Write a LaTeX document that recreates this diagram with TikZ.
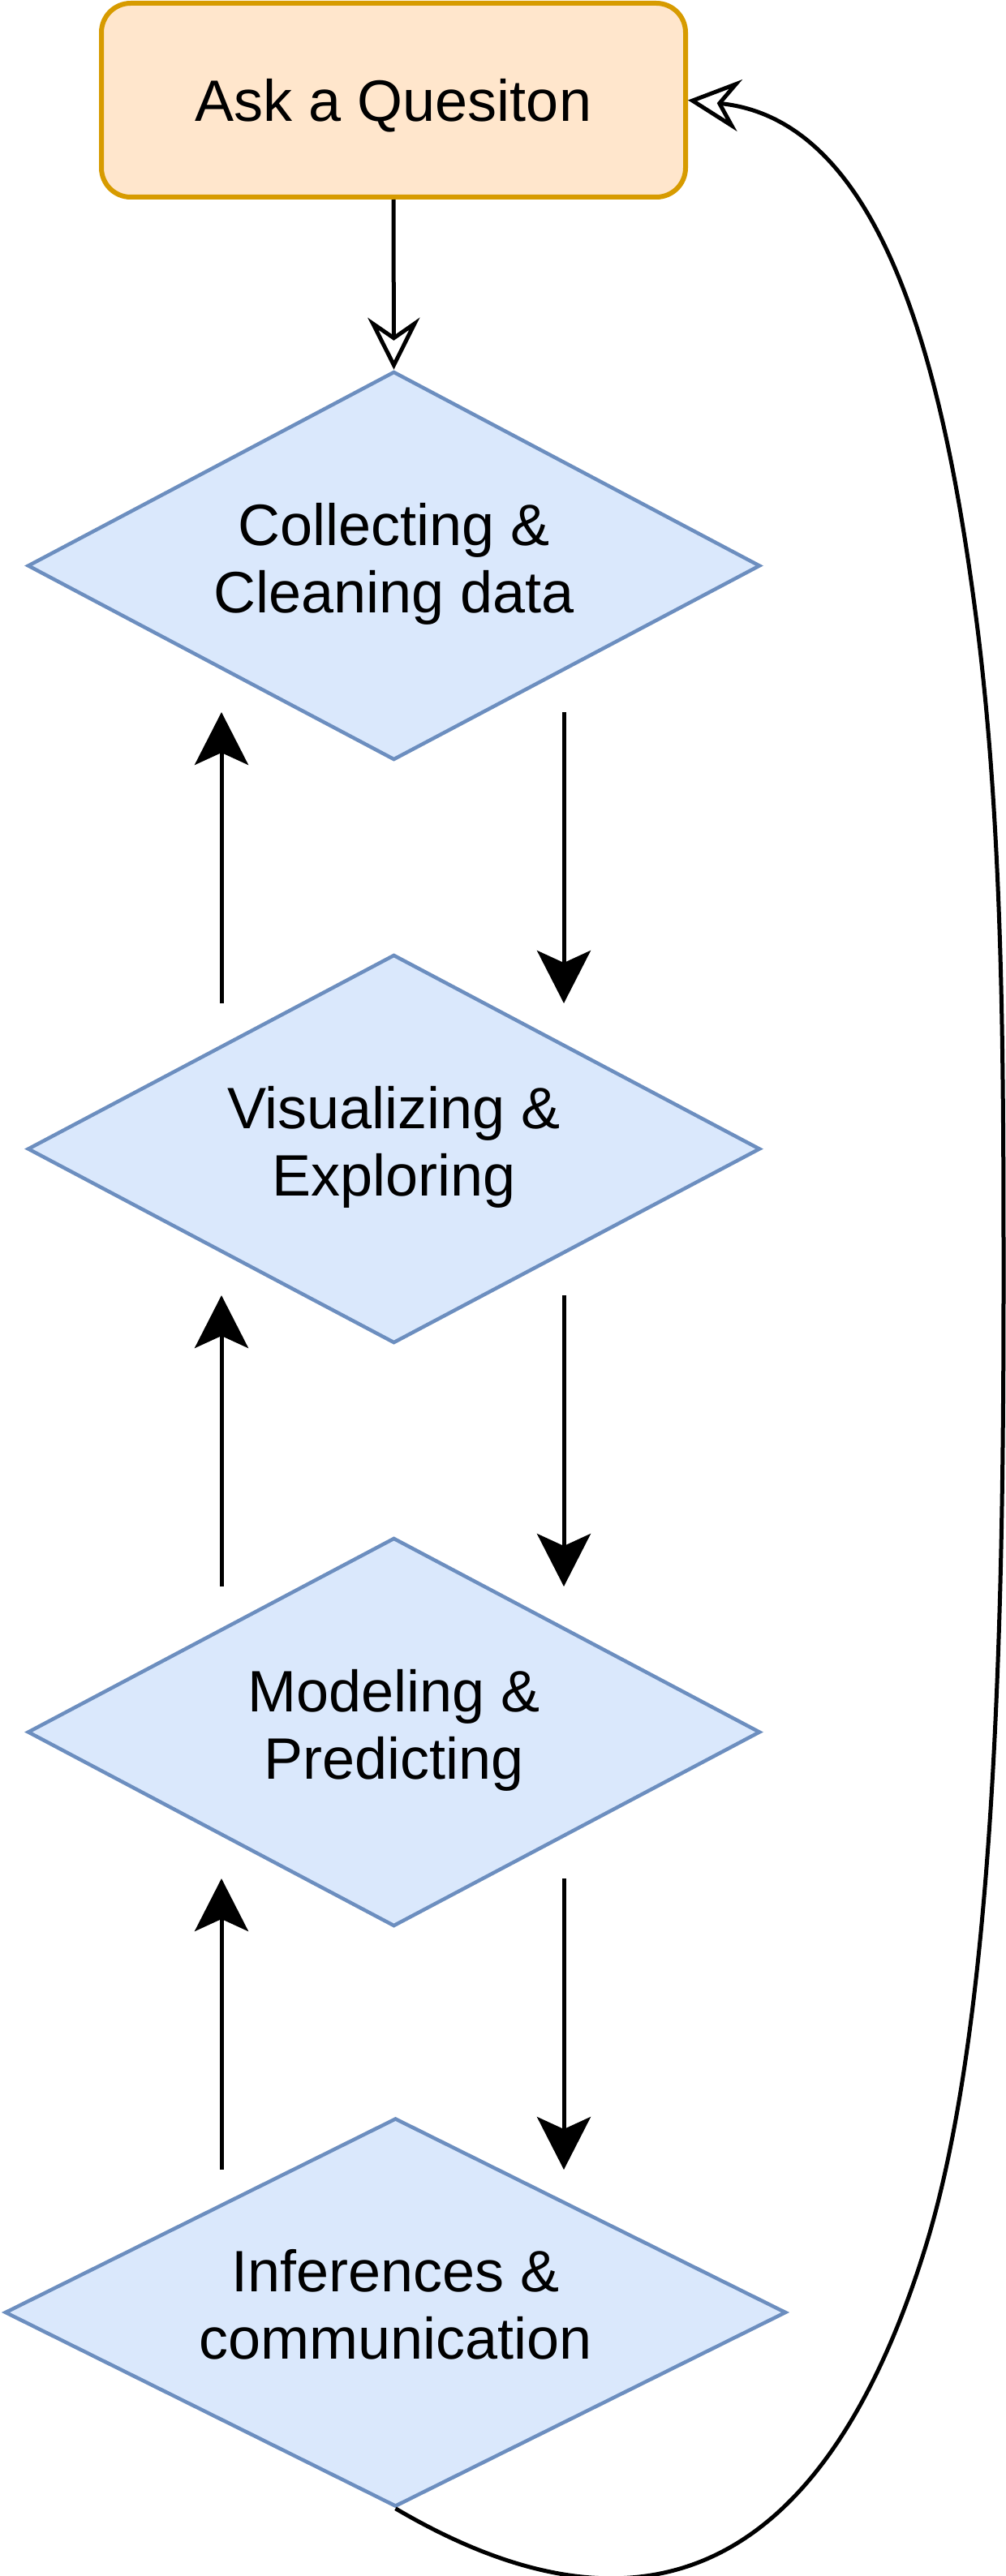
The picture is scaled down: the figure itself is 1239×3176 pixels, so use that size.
\documentclass[tikz,border=0pt]{standalone}
\usepackage{fontspec}
\setmainfont{Liberation Sans}
\usetikzlibrary{shapes.geometric,arrows.meta}
\definecolor{boxfill}{HTML}{FFE6CC}
\definecolor{boxdraw}{HTML}{D79B00}
\definecolor{dmfill}{HTML}{DAE8FC}
\definecolor{dmdraw}{HTML}{6C8EBF}
\begin{document}
\begin{tikzpicture}[x=1pt,y=-1pt,
  qbox/.style={draw=boxdraw, fill=boxfill, line width=6pt, rounded corners=36pt,
    minimum width=720pt, minimum height=239pt, inner sep=0pt,
    font=\fontsize{72}{83}\selectfont, text depth=0pt},
  stage/.style={diamond, aspect=1.885, draw=dmdraw, fill=dmfill, line width=4.5pt,
    minimum width=903pt, minimum height=479pt, inner sep=0pt, align=center,
    font=\fontsize{72}{83}\selectfont, text depth=20pt},
  flow/.style={line width=5pt, -{Stealth[length=65pt, width=66pt, inset=15pt]}},
  openflow/.style={line width=5pt, -{Stealth[open, fill=white, length=64pt, width=64pt, inset=22pt]}}
]
\useasboundingbox (0,0) rectangle (1239,3176);

\node[qbox] (ask) at (485,123.5) {Ask a Quesiton};
\node[stage] (d1) at (485.5,697.5) {Collecting \&~\\Cleaning data};
\node[stage] (d2) at (485.5,1416.5) {Visualizing \&~\\Exploring};
\node[stage] (d3) at (485.5,2135.5) {Modeling \&~\\Predicting};
\node[stage, aspect=2.01, minimum width=963pt] (d4) at (487.5,2851) {Inferences \&\\communication};

% free ends of the vertical connectors
\coordinate (a1s) at (695,878);  \coordinate (a1e) at (695,1237);
\coordinate (b1s) at (273,1237); \coordinate (b1e) at (273,878);
\coordinate (a2s) at (695,1597); \coordinate (a2e) at (695,1956);
\coordinate (b2s) at (273,1956); \coordinate (b2e) at (273,1597);
\coordinate (a3s) at (695,2316); \coordinate (a3e) at (695,2675);
\coordinate (b3s) at (273,2675); \coordinate (b3e) at (273,2316);

\draw[openflow] (ask.south) -- (d1.north);

\draw[flow] (a1s) -- (a1e);
\draw[flow] (b1s) -- (b1e);
\draw[flow] (a2s) -- (a2e);
\draw[flow] (b2s) -- (b2e);
\draw[flow] (a3s) -- (a3e);
\draw[flow] (b3s) -- (b3e);

\draw[openflow] (d4.south) .. controls (787,3269) and (1012,3180) .. (1139,2776)
  .. controls (1229,2491) and (1237,1976) .. (1237,1576)
  .. controls (1237,1300) and (1236,1032) .. (1206,784)
  .. controls (1169,486) and (1098,149) .. (ask.east);
\end{tikzpicture}
\end{document}
